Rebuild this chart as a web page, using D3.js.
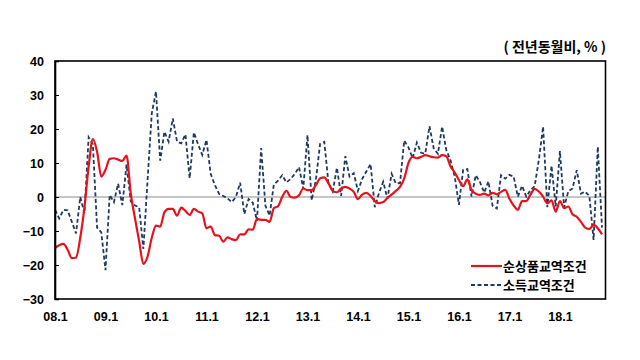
<!DOCTYPE html>
<html><head><meta charset="utf-8">
<script src="https://cdn.jsdelivr.net/npm/d3@7"></script>
<style>body{margin:0;background:#fff}</style>
</head><body><svg id="c" width="640" height="360"></svg>
<script>
const tickLabels = ["08.1","09.1","10.1","11.1","12.1","13.1","14.1","15.1","16.1","17.1","18.1"];
const yTicks = [-30,-20,-10,0,10,20,30,40];
const seriesNames = ["순상품교역조건","소득교역조건"];
const unitLabel = "( 전년동월비, % )";
const netBarter = [-15,-14.2,-13.8,-15.5,-18,-17.8,-12,-3,9,17,13.3,6,8,11.2,11.4,11,10.6,12.2,1.1,-6.2,-13,-19.7,-17.5,-12,-8.4,-8.7,-4.5,-3.5,-3.5,-5.5,-3.1,-4.1,-5.3,-3.5,-4.3,-4.8,-9.2,-8.7,-11.2,-11.4,-13.1,-11.9,-12.4,-12.7,-11,-11,-9.5,-9.6,-6.5,-6.7,-6.7,-7.3,-3.3,-2.7,0,1.8,0,-0.2,0.5,2.5,2,2,3.5,5.5,5.8,4,1.8,1.4,2.5,3,2.5,1.5,-0.6,0.7,1.2,0.3,-1.2,-1.8,-1.5,-0.3,0.7,1.8,3,5.5,10,11.8,11.4,11.8,12.3,12,11.7,11.6,12.3,12,9,7.2,5,3.2,5.2,2,1,0.6,1,0.5,1.2,0.8,1.5,2.1,-0.5,-2.5,-3.8,-1.2,-1.2,0.7,2.4,1.6,0.1,-1.9,-1,-4.3,-1.2,-3.3,-2.8,-5.1,-5.8,-7.3,-9,-9.4,-8.2,-9.2,-11];
const incomeTerms = [-3.8,-6.3,-3.8,-3.9,-7.3,-10.7,0,-4.8,17.6,15.5,-9,-10.4,-21.5,0.6,-1.5,3.9,-2.4,9.5,-1.3,-2.5,-3,-15.3,5,24.6,31,10.7,19.2,16.3,23.1,16.3,15.8,18.4,5.5,19,15.5,12.4,16.8,6.8,3.5,0.9,0.3,-0.4,-1.5,0,4.2,-5,-0.6,-1.7,-7,14.4,-2.5,-5.5,3.6,4.8,6.4,4.3,5.3,6.8,8.8,2.4,18.2,-1,5,15.6,16.2,4,1.6,8.6,0.3,12,6,7,1.8,5.3,7.5,9.7,-3,1.2,4.5,-0.5,6.8,4,4.1,16.6,14.6,11.4,16,13,12.8,20.8,14.3,12.7,20.7,13.8,10.8,6,-2.3,8,8.2,0.1,6.4,4.4,1.3,4.6,-2.6,-3.4,6.4,5.4,6.5,6,0.1,3.3,0.1,2,3.2,11,20.7,-3,9.2,-2.8,13.5,-3,1.7,2.5,7.9,1,1.6,0.3,-12.6,14.8,-9];

const categories = [];
for (let yr = 8; yr <= 18; yr++) for (let m = 1; m <= 12; m++) categories.push(String(yr).padStart(2,"0") + "." + m);
categories.length = netBarter.length;

const svg = d3.select("#c");
const L = 55, R = 605.5, T = 61, B = 299;
const x = d3.scalePoint().domain(categories).range([L, 602]);
const y = d3.scaleLinear().domain([-30, 40]).range([B, T]);
const font = "'Liberation Sans', Arial, sans-serif";
const kfont = "'Noto Sans CJK KR', sans-serif";

// zero line
svg.append("line").attr("x1", L).attr("x2", R).attr("y1", y(0)).attr("y2", y(0))
  .attr("stroke", "#8c8c8c").attr("stroke-width", 1);

// lines
const lineGen = d3.line().x((d, i) => x(categories[i])).y(d => y(d));
svg.append("path").datum(incomeTerms).attr("d", lineGen)
  .attr("fill", "none").attr("stroke", "#1f3a60").attr("stroke-width", 1.8)
  .attr("stroke-dasharray", "4,2.5");
svg.append("path").datum(netBarter).attr("d", lineGen.curve(d3.curveMonotoneX))
  .attr("fill", "none").attr("stroke", "#e8121c").attr("stroke-width", 2.2);

// frame
svg.append("rect").attr("x", L).attr("y", T).attr("width", R - L).attr("height", B - T)
  .attr("fill", "none").attr("stroke", "#000").attr("stroke-width", 1.6);

// y axis
const ya = svg.append("g").attr("transform", `translate(${L},0)`)
  .call(d3.axisLeft(y).tickValues(yTicks).tickSize(-4).tickPadding(11));
ya.select(".domain").attr("stroke", "#000").attr("stroke-width", 1.6);
ya.selectAll(".tick line").attr("stroke", "#000");
ya.selectAll("text").attr("font-family", font).attr("font-weight", "bold").attr("font-size", 12.5).attr("fill", "#000");

// x axis
const xa = svg.append("g").attr("transform", `translate(0,${B})`)
  .call(d3.axisBottom(x).tickValues(tickLabels).tickSize(0).tickPadding(13));
xa.select(".domain").remove();
xa.selectAll("text").attr("font-family", font).attr("font-weight", "bold").attr("font-size", 12.5).attr("fill", "#000");

// unit label
svg.append("text").attr("x", 606).attr("y", 52).attr("text-anchor", "end")
  .attr("font-family", kfont).attr("font-weight", "bold").attr("font-size", 14).attr("fill", "#000")
  .text(unitLabel);

// legend
const lg = svg.append("g");
const legendY = [266, 285];
const styles = [{c: "#e8121c", w: 2.2, d: null}, {c: "#1f3a60", w: 1.8, d: "4,2.5"}];
seriesNames.forEach((n, i) => {
  lg.append("line").attr("x1", 471).attr("x2", 502).attr("y1", legendY[i]).attr("y2", legendY[i])
    .attr("stroke", styles[i].c).attr("stroke-width", styles[i].w).attr("stroke-dasharray", styles[i].d);
  lg.append("text").attr("x", 503).attr("y", legendY[i] + 4.5)
    .attr("font-family", kfont).attr("font-weight", "bold").attr("font-size", 13).attr("fill", "#000").text(n);
});
</script></body></html>
